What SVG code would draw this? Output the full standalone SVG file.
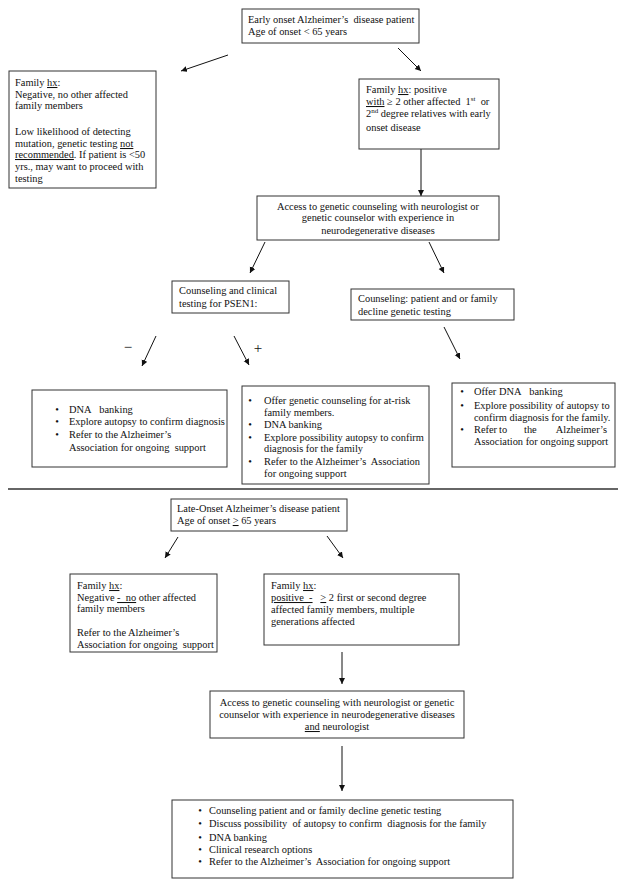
<svg xmlns="http://www.w3.org/2000/svg" width="625" height="888" viewBox="0 0 625 888">
<style>
  .box { fill: #fff; stroke: #333; stroke-width: 1; }
  text { font-family: "Liberation Serif", "Times New Roman", serif; font-size: 10.4px; fill: #111; }
  .c { text-anchor: middle; }
  .sq { text-decoration: underline dotted #777; }
  .u { text-decoration: underline; }
  .sign { font-size: 15px; }
  .conn line { stroke: #111; stroke-width: 1; }
</style>
<defs>
  <marker id="ah" markerUnits="userSpaceOnUse" markerWidth="8" markerHeight="8" refX="6" refY="3" orient="auto">
    <path d="M0,0 L6,3 L0,6 Z" fill="#111"/>
  </marker>
</defs>
<rect width="625" height="888" fill="#fff"/>
<g id="connectors" class="conn">
<line x1="228" y1="55" x2="181" y2="71" marker-end="url(#ah)"/>
<line x1="398" y1="48" x2="421" y2="71" marker-end="url(#ah)"/>
<line x1="421" y1="149" x2="421" y2="196" marker-end="url(#ah)"/>
<line x1="265" y1="242" x2="250" y2="273" marker-end="url(#ah)"/>
<line x1="429" y1="242" x2="444" y2="273" marker-end="url(#ah)"/>
<line x1="156" y1="336" x2="142" y2="366" marker-end="url(#ah)"/>
<line x1="234" y1="336" x2="249" y2="365" marker-end="url(#ah)"/>
<line x1="444" y1="327" x2="460" y2="359" marker-end="url(#ah)"/>
<line x1="178" y1="537" x2="165" y2="558" marker-end="url(#ah)"/>
<line x1="327" y1="536" x2="343" y2="558" marker-end="url(#ah)"/>
<line x1="342" y1="652" x2="342" y2="684" marker-end="url(#ah)"/>
<line x1="342" y1="746" x2="342" y2="791" marker-end="url(#ah)"/>
</g>
<g id="signs">
<text class="sign" x="128" y="352" text-anchor="middle">−</text>
<text class="sign" x="258" y="353" text-anchor="middle">+</text>
</g>
<line id="separator" x1="8" y1="489" x2="618" y2="489" stroke="#333" stroke-width="1.6"/>
<g id="early-onset">
<rect class="box" x="242" y="9" width="177" height="34"/>
<text x="248" y="23">Early onset Alzheimer’s&#160; disease patient</text>
<text x="248" y="35">Age of onset &lt; 65 years</text>
</g>
<g id="early-negative">
<rect class="box" x="9" y="71" width="147" height="117"/>
<text x="15" y="86">Family <tspan class="sq">hx</tspan>:</text>
<text x="15" y="98">Negative, no other affected</text>
<text x="15" y="109">family members</text>
<text x="15" y="135">Low likelihood of detecting</text>
<text x="15" y="147">mutation, genetic testing <tspan class="sq">not</tspan></text>
<text x="15" y="158"><tspan class="sq">recommended</tspan>. If patient is &lt;50</text>
<text x="15" y="170">yrs., may want to proceed with</text>
<text x="15" y="182">testing</text>
</g>
<g id="early-positive">
<rect class="box" x="359" y="79" width="140" height="70"/>
<text x="366" y="93">Family <tspan class="sq">hx</tspan>: positive</text>
<text x="366" y="105"><tspan class="sq">with</tspan> ≥ 2 other affected&#160; 1<tspan font-size="7" dy="-4">st</tspan><tspan dy="4">&#160; or</tspan></text>
<text x="366" y="117">2<tspan font-size="7" dy="-4">nd</tspan><tspan dy="4"> degree relatives with early</tspan></text>
<text x="366" y="131">onset disease</text>
</g>
<g id="early-access">
<rect class="box" x="257" y="196" width="242" height="44"/>
<text class="c" x="378" y="210">Access to genetic counseling with neurologist or</text>
<text class="c" x="378" y="221">genetic counselor with experience in</text>
<text class="c" x="378" y="234">neurodegenerative diseases</text>
</g>
<g id="psen1-testing">
<rect class="box" x="172" y="281" width="117" height="32"/>
<text x="179" y="294">Counseling and clinical</text>
<text x="179" y="307">testing for PSEN1:</text>
</g>
<g id="early-decline">
<rect class="box" x="351" y="289" width="163" height="31"/>
<text x="358" y="302">Counseling: patient and or family</text>
<text x="358" y="315">decline genetic testing</text>
</g>
<g id="negative-result">
<rect class="box" x="32" y="390" width="195" height="77"/>
<text x="57" y="413" class="c">•</text><text x="69" y="413">DNA&#160;&#160; banking</text>
<text x="57" y="425" class="c">•</text><text x="69" y="425">Explore autopsy to confirm diagnosis</text>
<text x="57" y="438" class="c">•</text><text x="69" y="438">Refer to the Alzheimer’s</text>
<text x="69" y="451">Association for ongoing&#160; support</text>
</g>
<g id="positive-result">
<rect class="box" x="242" y="386" width="187" height="98"/>
<text x="250" y="404" class="c">•</text><text x="264" y="404">Offer genetic counseling for at-risk</text>
<text x="264" y="416">family members.</text>
<text x="250" y="428" class="c">•</text><text x="264" y="428">DNA banking</text>
<text x="250" y="441" class="c">•</text><text x="264" y="441">Explore possibility autopsy to confirm</text>
<text x="264" y="452">diagnosis for the family</text>
<text x="250" y="465" class="c">•</text><text x="264" y="465">Refer to the Alzheimer’s&#160; Association</text>
<text x="264" y="477">for ongoing support</text>
</g>
<g id="decline-result">
<rect class="box" x="452" y="383" width="163" height="84"/>
<text x="462" y="395" class="c">•</text><text x="474" y="395">Offer DNA&#160;&#160; banking</text>
<text x="462" y="409" class="c">•</text><text x="474" y="409">Explore possibility of autopsy to</text>
<text x="474" y="421">confirm diagnosis for the family.</text>
<text x="462" y="433" class="c">•</text><text x="474" y="433">Refer</text><text x="499" y="433">to</text><text x="524" y="433">the</text><text x="607" y="433" text-anchor="end">Alzheimer’s</text>
<text x="474" y="445">Association for ongoing support</text>
</g>
<g id="late-onset">
<rect class="box" x="171" y="499" width="176" height="32"/>
<text x="177" y="512">Late-Onset Alzheimer’s disease patient</text>
<text x="177" y="524">Age of onset <tspan class="u">&gt;</tspan> 65 years</text>
</g>
<g id="late-negative">
<rect class="box" x="70" y="574" width="147" height="78"/>
<text x="77" y="589">Family <tspan class="sq">hx</tspan>:</text>
<text x="77" y="601">Negative <tspan class="sq">-&#160; no</tspan> other affected</text>
<text x="77" y="612">family members</text>
<text x="77" y="636">Refer to the Alzheimer’s</text>
<text x="77" y="648">Association for ongoing&#160; support</text>
</g>
<g id="late-positive">
<rect class="box" x="264" y="574" width="195" height="71"/>
<text x="271" y="589">Family <tspan class="sq">hx</tspan>:</text>
<text x="271" y="601"><tspan class="sq">positive&#160; -</tspan>&#160;&#160; <tspan class="u">&gt;</tspan> 2 first or second degree</text>
<text x="271" y="613">affected family members, multiple</text>
<text x="271" y="625">generations affected</text>
</g>
<g id="late-access">
<rect class="box" x="210" y="691" width="254" height="47"/>
<text class="c" x="337" y="706">Access to genetic counseling with neurologist or genetic</text>
<text class="c" x="337" y="718">counselor with experience in neurodegenerative diseases</text>
<text class="c" x="337" y="730"><tspan class="sq">and</tspan> neurologist</text>
</g>
<g id="late-result">
<rect class="box" x="172" y="800" width="341" height="78"/>
<text x="200" y="814" class="c">•</text><text x="209" y="814">Counseling patient and or family decline genetic testing</text>
<text x="200" y="827" class="c">•</text><text x="209" y="827">Discuss possibility&#160; of autopsy to confirm&#160; diagnosis for the family</text>
<text x="200" y="841" class="c">•</text><text x="209" y="841">DNA banking</text>
<text x="200" y="853" class="c">•</text><text x="209" y="853">Clinical research options</text>
<text x="200" y="865" class="c">•</text><text x="209" y="865">Refer to the Alzheimer’s&#160; Association for ongoing support</text>
</g>
</svg>
